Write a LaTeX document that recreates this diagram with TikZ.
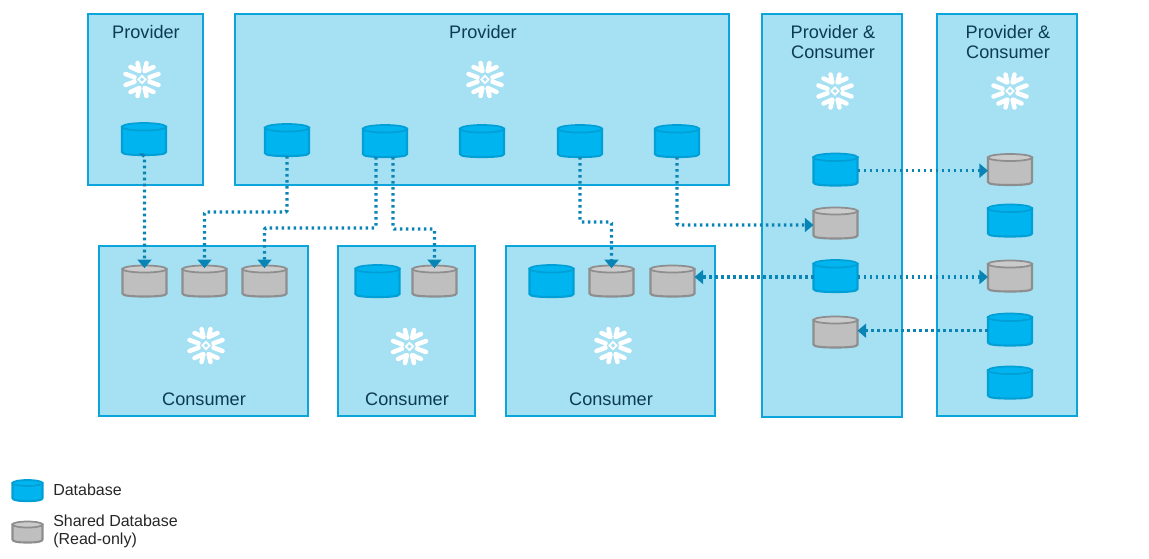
\documentclass[tikz,border=0pt]{standalone}
\usepackage{fontspec}
\setmainfont{Liberation Sans}
\usetikzlibrary{arrows.meta}
\definecolor{boxfill}{HTML}{A5E0F3}
\definecolor{boxline}{HTML}{0BA5DB}
\definecolor{dbfill}{HTML}{00B5EF}
\definecolor{dbline}{HTML}{009FD6}
\definecolor{grfill}{HTML}{BFBFBF}
\definecolor{grtop}{HTML}{CBCBCB}
\definecolor{grline}{HTML}{8E8E8E}
\definecolor{link}{HTML}{0A84B4}
\definecolor{ink}{HTML}{0D3B50}
\tikzset{
  zone/.style={draw=boxline,fill=boxfill,line width=1.5pt},
  zonelabel/.style={text=ink,font=\fontsize{13.6}{15}\selectfont,align=center,inner sep=0pt},
  legendlabel/.style={text=black!85,font=\fontsize{12}{13.5}\selectfont,align=left,anchor=west,inner sep=0pt},
  dbbox/.style={inner sep=0pt,outer sep=0pt},
  bluedb/.style={draw=dbline,fill=dbfill,line width=1.6pt},
  bluetop/.style={draw=dbline,fill=dbfill,line width=1.3pt},
  greydb/.style={draw=grline,fill=grfill,line width=1.6pt},
  greytop/.style={draw=grline,fill=grtop,line width=1.3pt},
  share/.style={draw=link,line width=2.6pt,dash pattern=on 2pt off 2.5pt,rounded corners=1pt,
    -{Triangle[width=10.5pt,length=6.5pt,color=link]}},
  sharedown/.style={share,shorten >=-2pt},
  flake/.pic={
    \draw[white,line width=3.4pt,line cap=round,line join=round]
      (-4.5,-16.5)--(-2.6,-8.5)--(-11.5,-12.5)
      (4.5,-16.5)--(2.6,-8.5)--(11.5,-12.5)
      (-4.5,16.5)--(-2.6,8.5)--(-11.5,12.5)
      (4.5,16.5)--(2.6,8.5)--(11.5,12.5)
      (-16.5,-5.5)--(-7.5,-2.2)
      (16.5,-5.5)--(7.5,-2.2)
      (-16.5,5.5)--(-7.5,2.2)
      (16.5,5.5)--(7.5,2.2);
    \draw[white,line width=1.3pt] (0,-3.6)--(3.6,0)--(0,3.6)--(-3.6,0)--cycle;
  }
}
% kind, name, centre x, centre y, half width, half height, cap radius
\newcommand{\dbnode}[7]{%
  \node[dbbox,minimum width=#5*1.5pt,minimum height=#6*1.5pt] (#2) at (#3,#4) {};
  \begin{scope}[shift={(#2.center)}]
    \path[#1db] (-#5,-#6+#7) -- (-#5,#6-3)
      .. controls (-#5,#6-0.8) and (-#5*0.6,#6) .. (0,#6)
      .. controls (#5*0.6,#6) and (#5,#6-0.8) .. (#5,#6-3)
      -- (#5,-#6+#7) -- cycle;
    \path[#1top] (0,-#6+#7) ellipse [x radius=#5,y radius=#7];
  \end{scope}}
\begin{document}
\begin{tikzpicture}[x=0.75pt,y=-0.75pt]
\useasboundingbox (0,0) rectangle (1149,558);
% zones
\path[zone] (88,14) rectangle (203,185);
\path[zone] (235,14) rectangle (729,185);
\path[zone] (762,14) rectangle (902,417);
\path[zone] (937,14) rectangle (1077,416);
\path[zone] (98.5,246) rectangle (307.5,416);
\path[zone] (338,246) rectangle (474.5,416);
\path[zone] (505.5,246) rectangle (715,416);
% zone labels
\node[zonelabel] (t1) at (146,32) {Provider};
\node[zonelabel] (t2) at (483,32) {Provider};
\node[zonelabel] (t3) at (833,42) {Provider \&\\Consumer};
\node[zonelabel] (t4) at (1008,42) {Provider \&\\Consumer};
\node[zonelabel] (t5) at (204,399) {Consumer};
\node[zonelabel] (t6) at (407,399) {Consumer};
\node[zonelabel] (t7) at (611,399) {Consumer};
% snowflakes
\pic at (142,79.5) {flake};
\pic at (485,79.5) {flake};
\pic at (835,91) {flake};
\pic at (1010,91) {flake};
\pic at (206,345.5) {flake};
\pic at (409.5,346.5) {flake};
\pic at (613,345.5) {flake};
% provider databases
\dbnode{blue}{pa}{144}{139}{22}{16}{3.8}
\dbnode{blue}{pb}{287}{140}{22}{16}{3.8}
\dbnode{blue}{pc}{385}{141}{22}{16}{3.8}
\dbnode{blue}{pd}{482}{141}{22}{16}{3.8}
\dbnode{blue}{pe}{580}{141}{22}{16}{3.8}
\dbnode{blue}{pf}{677}{141}{22}{16}{3.8}
% consumer databases
\dbnode{grey}{ca}{144.5}{281}{22}{15.5}{3.5}
\dbnode{grey}{cb}{204.5}{281}{22}{15.5}{3.5}
\dbnode{grey}{cc}{264.5}{281}{22}{15.5}{3.5}
\dbnode{blue}{cd}{377.5}{281}{22}{16}{3.8}
\dbnode{grey}{ce}{434.5}{281}{22}{15.5}{3.5}
\dbnode{blue}{cf}{551.5}{281}{22}{16}{3.8}
\dbnode{grey}{cg}{611.5}{281}{22}{15.5}{3.5}
\dbnode{grey}{ch}{672.5}{281}{22}{15.5}{3.5}
% provider & consumer, left
\dbnode{blue}{ma}{835.5}{169.5}{22}{16}{3.8}
\dbnode{grey}{mb}{835.5}{223}{22}{15.5}{3.5}
\dbnode{blue}{mc}{835.5}{276}{22}{16}{3.8}
\dbnode{grey}{md}{835.5}{332}{22}{15.5}{3.5}
% provider & consumer, right
\dbnode{grey}{ra}{1010}{169.5}{22}{15.5}{3.5}
\dbnode{blue}{rb}{1010}{220.5}{22}{16}{3.8}
\dbnode{grey}{rc}{1010}{276}{22}{15.5}{3.5}
\dbnode{blue}{rd}{1010}{329.5}{22}{16}{3.8}
\dbnode{blue}{re}{1010}{382.5}{22}{16}{3.8}
% legend
\dbnode{blue}{la}{27.5}{490.5}{15}{10.5}{3}
\dbnode{grey}{lb}{27.5}{532}{15}{10.5}{3}
\node[legendlabel] (lta) at (53,489.5) {Database};
\node[legendlabel] (ltb) at (53,531.5) {Shared Database\\(Read-only)};
% bend heights
\coordinate (hb) at (0,212);
\coordinate (hc) at (0,228);
\coordinate (hd) at (0,229);
\coordinate (he) at (0,222);
\coordinate (hf) at (0,225);
\coordinate (hg) at (0,277);
\coordinate (hh) at (0,170.7);
\coordinate (hi) at (0,330.7);
% connectors
\draw[sharedown] (pa.south) -- (pa.south -| ca.north) -- (ca.north);
\draw[sharedown] (pb.south) -- (pb.south |- hb) -- (cb.north |- hb) -- (cb.north);
\draw[sharedown] ([xshift=-6.75pt]pc.south) -- ([xshift=-6.75pt]pc.south |- hc) -- (cc.north |- hc) -- (cc.north);
\draw[sharedown] ([xshift=6pt]pc.south) -- ([xshift=6pt]pc.south |- hd) -- (ce.north |- hd) -- (ce.north);
\draw[sharedown] (pe.south) -- (pe.south |- he) -- (cg.north |- he) -- (cg.north);
\draw[share] (pf.south) -- (pf.south |- hf) -- (mb.west |- hf);
\draw[share] (ma.east |- hh) -- (ra.west |- hh);
\draw[share] (mc.east |- hg) -- (rc.west |- hg);
\draw[share] (mc.west |- hg) -- (ch.east |- hg);
\draw[share] (rd.west |- hi) -- (md.east |- hi);
\end{tikzpicture}
\end{document}
